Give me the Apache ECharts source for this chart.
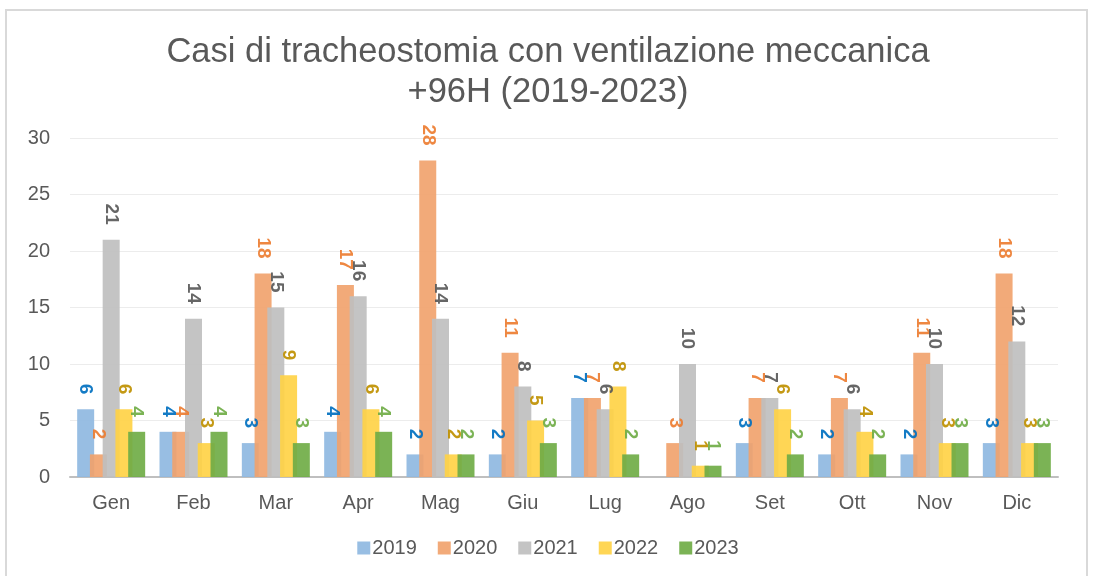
<!DOCTYPE html>
<html>
<head>
<meta charset="utf-8">
<script src="https://cdn.jsdelivr.net/npm/echarts@6/dist/echarts.min.js"></script>
<style>
  html, body { margin: 0; padding: 0; background: #fff; }
  #frame { position: absolute; left: 5px; top: 9px; width: 1083px; height: 580px; border: 2px solid #d9d9d9; box-sizing: border-box; }
  #chart { width: 1096px; height: 576px; }
</style>
</head>
<body>
<div id="frame"></div>
<div id="chart"></div>
<script>
  const months = ['Gen', 'Feb', 'Mar', 'Apr', 'Mag', 'Giu', 'Lug', 'Ago', 'Set', 'Ott', 'Nov', 'Dic'];
  const years = ['2019', '2020', '2021', '2022', '2023'];
  const v2019 = [6, 4, 3, 4, 2, 2, 7, null, 3, 2, 2, 3];
  const v2020 = [2, 4, 18, 17, 28, 11, 7, 3, 7, 7, 11, 18];
  const v2021 = [21, 14, 15, 16, 14, 8, 6, 10, 7, 6, 10, 12];
  const v2022 = [6, 3, 9, 6, 2, 5, 8, 1, 6, 4, 3, 3];
  const v2023 = [4, 4, 3, 4, 2, 3, 2, 1, 2, 2, 3, 3];
  const yTicks = [0, 5, 10, 15, 20, 25, 30];

  const values = [v2019, v2020, v2021, v2022, v2023];
  const barColors = ['#8fb9e1', '#f1a36e', '#bfbfbf', '#ffd347', '#70ad47'];
  const labelColors = ['#0070c0', '#ed7d31', '#595959', '#bf9000', '#70ad47'];

  const chart = echarts.init(document.getElementById('chart'));
  chart.setOption({
    animation: false,
    title: {
      text: 'Casi di tracheostomia con ventilazione meccanica\n+96H (2019-2023)',
      left: 'center',
      top: 27,
      textStyle: { fontFamily: 'Liberation Sans', fontSize: 34.5, fontWeight: 'normal', color: '#595959', lineHeight: 40 }
    },
    legend: {
      bottom: 13,
      left: 'center',
      icon: 'rect',
      itemWidth: 13,
      itemHeight: 13,
      itemGap: 21,
      textStyle: { fontFamily: 'Liberation Sans', fontSize: 20, color: '#595959', padding: [0, 0, 0, -3] },
      data: years
    },
    grid: { left: 70, right: 38, top: 138, bottom: 99 },
    xAxis: {
      type: 'category',
      data: months,
      axisTick: { show: false },
      axisLine: { lineStyle: { color: '#bfbfbf', width: 2 } },
      axisLabel: { fontFamily: 'Liberation Sans', fontSize: 20, color: '#595959', margin: 16 }
    },
    yAxis: {
      type: 'value',
      min: yTicks[0],
      max: yTicks[yTicks.length - 1],
      interval: 5,
      axisLabel: { fontFamily: 'Liberation Sans', fontSize: 20, color: '#595959', margin: 20 },
      splitLine: { lineStyle: { color: '#ececec', width: 1 } }
    },
    series: years.map((y, i) => ({
      name: y,
      type: 'bar',
      data: values[i],
      barWidth: 17,
      barGap: '-25%',
      itemStyle: { color: barColors[i], opacity: 0.92 },
      label: {
        show: true,
        position: 'top',
        rotate: -90,
        align: 'right',
        verticalAlign: 'middle',
        distance: 15,
        fontFamily: 'Liberation Sans',
        fontSize: 19,
        fontWeight: 'bold',
        color: labelColors[i]
      }
    }))
  });
</script>
</body>
</html>
